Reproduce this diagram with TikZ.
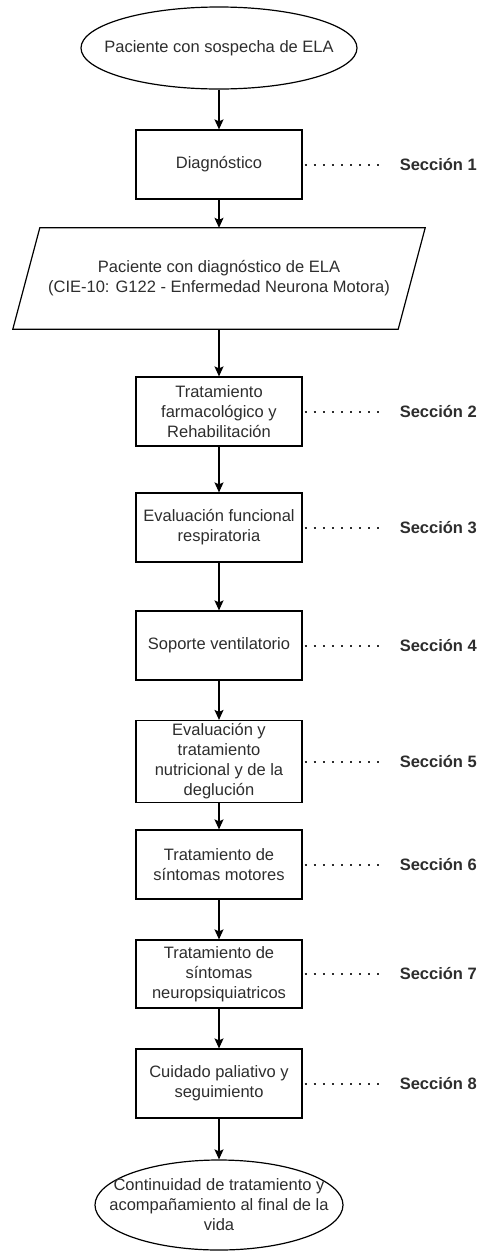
\documentclass[tikz,border=0pt]{standalone}
\usepackage{fontspec}
\setmainfont{Liberation Sans}
\usetikzlibrary{shapes.geometric,arrows.meta,calc}
\definecolor{txt}{RGB}{45,45,45}
\begin{document}
\begin{tikzpicture}[x=1pt,y=-1pt,
  every node/.style={font=\fontsize{16.5}{20}\selectfont, text=txt},
  stepbox/.style={draw=black, line width=1.2pt, rectangle, minimum width=166pt, minimum height=69pt, align=center, inner sep=0pt},
  oval/.style={draw=black, line width=1.2pt, ellipse, inner sep=0pt},
  flow/.style={line width=1.2pt, -{Stealth[length=10pt,width=9pt,inset=2pt]}},
  dots/.style={line width=2pt, dash pattern=on 2pt off 7.1pt, line cap=butt, draw=txt},
  seclabel/.style={anchor=west, inner sep=0pt, font=\fontsize{16.5}{20}\selectfont\bfseries}
]
\useasboundingbox (0,0) rectangle (479,1251);
% top ellipse
\node[oval, minimum width=276pt, minimum height=82pt] (start) at (219,48) {};
\node[align=center] (starttxt) at (start.center) {Paciente con sospecha de ELA};
% boxes
\node[stepbox] (b1) at (219,164.5) {Diagnóstico};
% parallelogram
\node[rectangle, minimum width=412pt, minimum height=101pt, inner sep=0pt, align=center] (para) at (219,278.5) {Paciente con diagnóstico de ELA\\(CIE-10: G122 - Enfermedad Neurona Motora)};
\draw[line width=1.2pt] ($(para.north west)+(27,0)$) -- (para.north east) -- ($(para.south east)+(-27,0)$) -- (para.south west) -- cycle;
\node[stepbox] (b2) at (219,411.5) {Tratamiento\\farmacológico y\\Rehabilitación};
\node[stepbox] (b3) at (219,527.5) {Evaluación funcional\\respiratoria};
\node[stepbox] (b4) at (219,645.5) {Soporte ventilatorio};
\node[stepbox, minimum height=82pt] (b5) at (219,761.5) {Evaluación y\\tratamiento\\nutricional y de la\\deglución};
\node[stepbox] (b6) at (219,864.5) {Tratamiento de\\síntomas motores};
\node[stepbox, minimum height=68pt] (b7) at (219,974) {Tratamiento de\\síntomas\\neuropsiquiatricos};
\node[stepbox] (b8) at (219,1083.5) {Cuidado paliativo y\\seguimiento};
% bottom ellipse
\node[oval, minimum width=248pt, minimum height=90pt] (end) at (219,1205) {};
\node[align=center] (endtxt) at (end.center) {Continuidad de tratamiento y\\acompañamiento al final de la\\vida};
% arrows
\draw[flow] (start) -- (b1);
\draw[flow] (b1) -- (para.north);
\draw[flow] (para.south) -- (b2);
\draw[flow] (b2) -- (b3);
\draw[flow] (b3) -- (b4);
\draw[flow] (b4) -- (b5);
\draw[flow] (b5) -- (b6);
\draw[flow] (b6) -- (b7);
\draw[flow] (b7) -- (b8);
\draw[flow] (b8) -- (end);
% section labels
\foreach \b/\n in {b1/1,b2/2,b3/3,b4/4,b5/5,b6/6,b7/7,b8/8}{
  \coordinate (d\n) at ($(\b.east)+(77,0)$);
  \node[seclabel] (s\n) at ($(\b.east)+(97,0)$) {Sección \n};
  \draw[dots] ($(\b.east)+(2,0)$) -- (d\n);
}
\end{tikzpicture}
\end{document}
